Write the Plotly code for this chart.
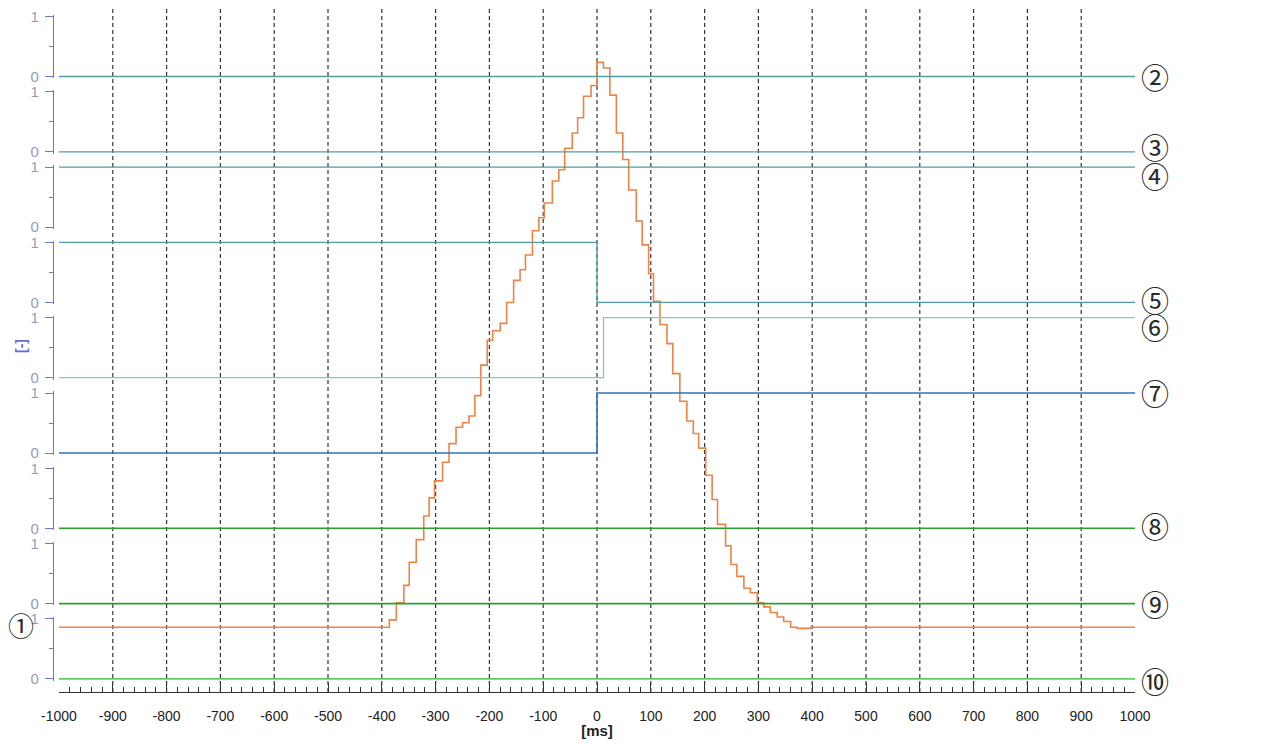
import plotly.graph_objects as go

# ---------------- data ----------------
x_ticks = list(range(-1000, 1001, 100))
x_tick_text = [str(v) for v in x_ticks]

# digital channels (step signals), times in ms, values 0/1
ch2_t = [-1000, 1000]; ch2_v = [0, 0]
ch3_t = [-1000, 1000]; ch3_v = [0, 0]
ch4_t = [-1000, 1000]; ch4_v = [1, 1]
ch5_t = [-1000, 0, 1000]; ch5_v = [1, 0, 0]
ch6_t = [-1000, 12, 1000]; ch6_v = [0, 1, 1]
ch7_t = [-1000, 0, 1000]; ch7_v = [0, 1, 1]
ch8_t = [-1000, 1000]; ch8_v = [0, 0]
ch9_t = [-1000, 1000]; ch9_v = [0, 0]
ch10_t = [-1000, 1000]; ch10_v = [0, 0]

# analog channel 1 (orange), relative units (baseline 0, peak 100)
sig1_t = [-1000, -386, -373, -359, -349, -336, -322, -312, -302, -287, -275,
          -262, -250, -238, -227, -216, -204, -194, -180, -168, -155, -143,
          -133, -120, -108, -98, -83, -71, -60, -46, -36, -25, -11, 0,
          12, 24, 36, 48, 59, 73, 84, 96, 105, 117, 130, 141, 154, 167, 179,
          189, 202, 214, 224, 239, 249, 260, 273, 285, 298, 310, 322, 335,
          347, 360, 372, 397, 1000]
sig1_v = [0, 1.3, 4.3, 7.4, 11.5, 15.5, 19.7, 22.9, 25.9, 29.2, 32.5,
          35.4, 36.2, 37.4, 41.0, 46.4, 50.8, 52.5, 53.8, 57.5, 61.4, 63.3,
          65.9, 70.2, 72.5, 75.1, 79.0, 81.0, 84.8, 87.5, 90.2, 94.0, 95.9, 100,
          99.0, 94.2, 87.5, 82.8, 77.4, 71.9, 67.7, 62.6, 57.7, 53.6, 50.2, 44.9,
          40.0, 36.5, 34.3, 31.7, 26.9, 22.6, 18.2, 14.4, 11.1, 9.0, 6.9, 6.1,
          4.3, 3.6, 2.6, 1.8, 1.0, 0.0, -0.2, 0.0, 0.0]

channel_labels = ["②", "③", "④", "⑤", "⑥", "⑦", "⑧", "⑨", "⑩"]
channel_times = [ch2_t, ch3_t, ch4_t, ch5_t, ch6_t, ch7_t, ch8_t, ch9_t, ch10_t]
channel_values = [ch2_v, ch3_v, ch4_v, ch5_v, ch6_v, ch7_v, ch8_v, ch9_v, ch10_v]
channel_colors = ["#4f9ea6", "#4f9ea6", "#4f9ea6", "#4f9ea6", "#80c6c6",
                  "#2f72c0", "#2e9e32", "#2e9e32", "#5fd060"]
channel_widths = [1.3, 1.3, 1.3, 1.3, 1.3, 1.6, 1.6, 1.6, 1.6]
label_nudge = [0, 5, -9, 2, -9, 0, 2, 0, -2]

# ---------------- layout geometry ----------------
# page body has an 8px margin; figure is sized/placed to compensate
OFF = 8
W, H = 1281 - 2 * OFF, 747 - 2 * OFF
plot_left_px, plot_right_px = 53 - OFF, 1135 - OFF      # y-axis line .. right end
plot_top_px, plot_bottom_px = 8 - OFF, 692 - OFF
L, R = plot_left_px, W - plot_right_px
T, B = plot_top_px, H - plot_bottom_px
PH = H - T - B
PW = W - L - R
x_start_px = 59 - OFF

first_zero_px = 76.5 - OFF
zero_step_px = 75.3
bracket_px = 60.0
pad = 0.03

BRACKET = "#7474c4"
TICKTXT = "#9a9ab8"
CIRCLE_FONT = dict(family="Noto Sans CJK JP", size=28, color="#2a2a2a")

fig = go.Figure()

layout_axes = {}
for i in range(9):
    zero_px = first_zero_px + i * zero_step_px
    lo_px = zero_px + pad * bracket_px
    hi_px = zero_px - bracket_px - pad * bracket_px
    dom = [(plot_bottom_px - lo_px) / PH, (plot_bottom_px - hi_px) / PH]
    name = "yaxis%d" % (i + 2)
    layout_axes[name] = dict(
        domain=dom, range=[-pad, 1 + pad], anchor="free", position=0,
        automargin=False, ticklabeloverflow="allow",
        showline=True, linecolor=BRACKET, linewidth=1.3,
        ticks="outside", ticklen=8, tickcolor=BRACKET, tickwidth=1.3,
        tickvals=[0, 1], ticktext=["0", "1"], ticklabelstandoff=3,
        tickfont=dict(family="Liberation Sans, Arial", size=15, color=TICKTXT),
        minor=dict(tickvals=[0.5], ticks="outside", ticklen=4,
                   tickcolor=BRACKET, tickwidth=1.2),
        showgrid=False, zeroline=False, fixedrange=True,
    )
    fig.add_trace(go.Scatter(
        x=channel_times[i], y=channel_values[i], mode="lines",
        line=dict(color=channel_colors[i], width=channel_widths[i], shape="hv"),
        xaxis="x", yaxis="y%d" % (i + 2), showlegend=False, hoverinfo="skip"))

# orange analog trace on full-height axis
orange_base_px = 627.2 - OFF
orange_peak_px = 62.4 - OFF
u = 100.0 / (orange_base_px - orange_peak_px)
y_lo = (orange_base_px - plot_bottom_px) * u
y_hi = (orange_base_px - plot_top_px) * u
fig.add_trace(go.Scatter(
    x=sig1_t, y=sig1_v, mode="lines",
    line=dict(color="#ec8446", width=1.6, shape="hv"),
    xaxis="x", yaxis="y", showlegend=False, hoverinfo="skip"))

# vertical dashed grid
for t in x_ticks[1:-1]:
    fig.add_shape(type="line", xref="x", yref="paper", x0=t, x1=t, y0=0, y1=1,
                  line=dict(color="#333333", width=1.2, dash="4px,3px"),
                  layer="below")

annotations = []
for i in range(9):
    annotations.append(dict(
        text=channel_labels[i], xref="paper", x=1, xanchor="left", xshift=4,
        yref="y%d" % (i + 2), y=channel_values[i][-1], yanchor="middle",
        yshift=label_nudge[i], showarrow=False, font=CIRCLE_FONT))
annotations.append(dict(
    text="①", xref="paper", x=(21 - OFF - L) / PW, xanchor="center",
    yref="y", y=sig1_v[-1], yanchor="middle", yshift=3, showarrow=False,
    font=dict(family="Noto Sans CJK JP", size=26, color="#2a2a2a")))
annotations.append(dict(
    text="<b>[-]</b>", xref="paper", x=(21 - OFF - L) / PW, xanchor="center",
    yref="paper", y=(plot_bottom_px - (346 - OFF)) / PH, yanchor="middle",
    textangle=-90, showarrow=False,
    font=dict(family="Liberation Sans, Arial", size=14, color="#6a6ad0")))

fig.update_layout(
    width=W, height=H,
    margin=dict(l=L, r=R, t=T, b=B, pad=0, autoexpand=False),
    paper_bgcolor="white", plot_bgcolor="rgba(0,0,0,0)",
    showlegend=False,
    xaxis=dict(
        domain=[(x_start_px - L) / PW, 1], range=[-1000, 1000], anchor="y",
        automargin=False,
        tickvals=x_ticks, ticktext=x_tick_text,
        ticks="inside", ticklen=9, tickcolor="#333333", tickwidth=1.2,
        minor=dict(dtick=20, tick0=0, ticks="inside", ticklen=5,
                   tickcolor="#333333", tickwidth=1),
        showline=True, linecolor="#333333", linewidth=1.2,
        showgrid=False, zeroline=False, ticklabelstandoff=11,
        tickfont=dict(family="Liberation Sans, Arial", size=14, color="#222222"),
        title=dict(text="<b>[ms]</b>", standoff=10,
                   font=dict(family="Liberation Sans, Arial", size=15, color="#222222")),
        fixedrange=True,
    ),
    yaxis=dict(domain=[0, 1], range=[y_lo, y_hi], visible=False, fixedrange=True,
               automargin=False),
    annotations=annotations,
    **layout_axes,
)

fig.write_html("out.html")
